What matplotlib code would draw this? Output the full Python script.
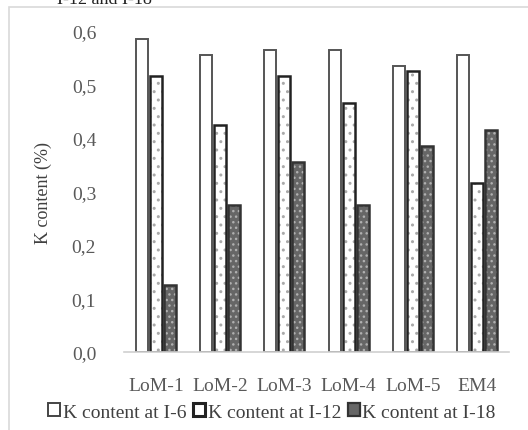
import numpy as np
import matplotlib.pyplot as plt
from matplotlib.patches import Rectangle

plt.rcParams['font.family'] = ['Liberation Serif', 'DejaVu Serif']

categories = ["LoM-1", "LoM-2", "LoM-3", "LoM-4", "LoM-5", "EM4"]
k_i6 = [0.585, 0.555, 0.565, 0.565, 0.535, 0.555]
k_i12 = [0.515, 0.425, 0.515, 0.465, 0.525, 0.315]
k_i18 = [0.125, 0.275, 0.355, 0.275, 0.385, 0.415]
series_labels = ["K content at I-6", "K content at I-12", "K content at I-18"]

W, H = 528, 431
fig = plt.figure(figsize=(W / 100, H / 100), dpi=100)
ax = fig.add_axes([124 / W, 78 / H, 385 / W, 321 / H])

# chart box border (light gray), cut by the page edges
fig.patches.append(Rectangle((9 / W, -0.05), 1.2, 1 - 8 / H + 0.05,
                             transform=fig.transFigure, fill=False,
                             edgecolor="#d9d9d9", lw=1.2))
# cut-off caption at the very top
fig.text(57 / W, 1 - 4 / H, "I-12 and I-18", fontsize=13, va="baseline",
         ha="left", color="#222222")

x = np.arange(len(categories))
bw = 0.187
step = 0.218

ax.bar(x - step, k_i6, bw, facecolor="white", edgecolor="#555555", lw=1.4)
ax.bar(x, k_i12, bw, facecolor="white", edgecolor="#aaaaaa", hatch="..", lw=0)
ax.bar(x, k_i12, bw, facecolor="none", edgecolor="#222222", lw=1.8)
ax.bar(x + step, k_i18, bw, facecolor="#666666", edgecolor="#b0b0b0", hatch="...", lw=0)
ax.bar(x + step, k_i18, bw, facecolor="none", edgecolor="#333333", lw=1.8)

ax.set_xlim(-0.5, len(categories) - 0.5)
ax.set_ylim(0, 0.6)
ax.set_yticks(np.arange(0, 0.61, 0.1))
ax.set_yticklabels([f"{v:.1f}".replace(".", ",") for v in np.arange(0, 0.61, 0.1)])
ax.set_xticks(x)
ax.set_xticklabels(categories)
ax.tick_params(axis="y", length=0, pad=20, labelsize=14, labelcolor="#595959")
ax.tick_params(axis="x", length=0, pad=18, labelsize=14, labelcolor="#595959")
for s in ["top", "right", "left"]:
    ax.spines[s].set_visible(False)
ax.spines["bottom"].set_color("#d0d0d0")
ax.spines["bottom"].set_linewidth(1.2)

ax.set_ylabel("K content (%)", fontsize=13, color="#404040", labelpad=14)

h1 = Rectangle((0, 0), 1, 1, facecolor="white", edgecolor="#444444", lw=1.4)
h2 = Rectangle((0, 0), 1, 1, facecolor="white", edgecolor="#222222", lw=2.2)
h3 = Rectangle((0, 0), 1, 1, facecolor="#666666", edgecolor="#333333", lw=1.6)
fig.legend([h1, h2, h3], series_labels, loc="center", bbox_to_anchor=(272 / W, 1 - 413 / H),
           ncol=3, frameon=False, fontsize=14, handlelength=0.6, handleheight=0.6,
           handletextpad=0.15, columnspacing=0.35, labelcolor="#404040")

fig.savefig("out.png", dpi=100)
